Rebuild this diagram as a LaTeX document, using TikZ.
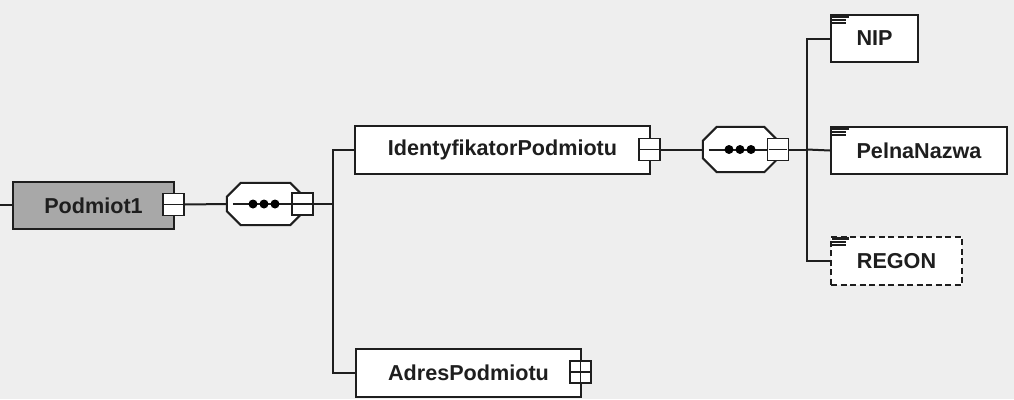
\documentclass[tikz,border=0pt]{standalone}
\usepackage{fontspec}
\setmainfont{Liberation Sans}
\definecolor{bgcol}{HTML}{EEEEEE}
\definecolor{grayfill}{HTML}{A8A8A8}
\definecolor{ink}{HTML}{1E1E1E}
\newcommand{\elfont}{\fontsize{21.6}{25}\selectfont\bfseries}
\tikzset{
  elem/.style={draw=ink, line width=2.2pt, fill=white, rectangle, inner sep=0pt, font=\elfont, text=ink},
  btn/.style={draw=ink, line width=1.8pt, fill=white, rectangle, minimum width=21pt, minimum height=22pt, inner sep=0pt},
  conn/.style={draw=ink, line width=2pt},
  octbox/.style={rectangle, minimum width=76pt, minimum height=42pt, inner sep=0pt},
  octline/.style={draw=ink, line width=2pt, fill=white},
  dotstyle/.style={fill=black, draw=none},
  iconline/.style={draw=ink, line width=2.2pt},
}
\newcommand{\drawocta}[1]{%
  \draw[octline] ([xshift=14pt]#1.north west) -- ([xshift=-13pt]#1.north east) -- ([yshift=-13pt]#1.north east) -- ([yshift=13pt]#1.south east) -- ([xshift=-13pt]#1.south east) -- ([xshift=14pt]#1.south west) -- ([yshift=14pt]#1.south west) -- ([yshift=-14pt]#1.north west) -- cycle;}
\newcommand{\drawdots}[3]{% octagon, button, dot centre x shift
  \draw[conn] ([xshift=6pt]#1.west) -- (#2.west);
  \foreach \dx in {-11,0,11} {\fill[dotstyle] ([xshift=#3pt+\dx pt]#1.center) circle (4.5pt);}}
\newcommand{\minusbtn}[1]{\draw[ink, line width=1.6pt] ([xshift=2pt]#1.west) -- ([xshift=-2pt]#1.east);}
\newcommand{\plusbtn}[1]{\draw[ink, line width=1.6pt] (#1.west) -- (#1.east) ([yshift=2pt]#1.north) -- ([yshift=-2pt]#1.south);}
\newcommand{\leaficon}[1]{%
  \draw[iconline] ([xshift=2pt,yshift=-2.5pt]#1.north west) -- ++(17pt,0pt);
  \draw[iconline] ([xshift=2pt,yshift=-5.8pt]#1.north west) -- ++(14pt,0pt);
  \draw[iconline] ([xshift=2pt,yshift=-9.1pt]#1.north west) -- ++(14pt,0pt);}
\begin{document}
\begin{tikzpicture}[x=1pt,y=-1pt]
\fill[bgcol] (0,0) rectangle (1014,399);
\useasboundingbox (0,0) rectangle (1014,399);

% Podmiot1
\coordinate (start) at (0,205);
\node[elem, fill=grayfill, minimum width=161pt, minimum height=47pt] (p1) at (93.5,205.5) {Podmiot1};
\node[btn] (p1b) at (173.5,204.5) {};
\minusbtn{p1b}
\draw[conn] (start) -- (start -| p1.west);

% sequence 1
\node[octbox] (s1) at (265,204) {};
\draw[conn] (p1b.east) -- (s1.west);
\drawocta{s1}
\node[btn] (s1b) at (302.5,204) {};
\minusbtn{s1b}
\drawdots{s1}{s1b}{-1}
\coordinate (j1) at (333,204);
\draw[conn] (s1b.east) -- (j1);

% IdentyfikatorPodmiotu
\node[elem, minimum width=295pt, minimum height=48pt] (id) at (502.5,150) {IdentyfikatorPodmiotu};
\node[btn] (idb) at (649.5,149.5) {};
\minusbtn{idb}

% AdresPodmiotu
\node[elem, minimum width=225pt, minimum height=48pt, text width=205pt, align=center] (ad) at (468.5,373) {AdresPodmiotu};
\node[btn] (adb) at (580.5,372) {};
\plusbtn{adb}

\draw[conn] (id.west) -| (j1) |- (ad.west);

% sequence 2
\node[octbox, minimum width=74pt, minimum height=45pt] (s2) at (740,149.5) {};
\draw[conn] (idb.east) -- (s2.west);
\drawocta{s2}
\node[btn] (s2b) at (778,149.5) {};
\minusbtn{s2b}
\drawdots{s2}{s2b}{0}
\coordinate (j2) at (807,149.5);
\draw[conn] (s2b.east) -- (j2);

% leaves
\node[elem, minimum width=87pt, minimum height=47pt] (nip) at (874.5,38.5) {NIP};
\node[elem, minimum width=176pt, minimum height=47pt] (pn) at (919,150.5) {PelnaNazwa};
\node[elem, dashed, dash pattern=on 6pt off 3.5pt, minimum width=131pt, minimum height=48pt] (rg) at (896.5,261) {REGON};
\leaficon{nip}
\leaficon{pn}
\leaficon{rg}

\draw[conn] (nip.west) -| (j2) |- (rg.west);
\draw[conn] (j2) -- (pn.west);
\end{tikzpicture}
\end{document}
